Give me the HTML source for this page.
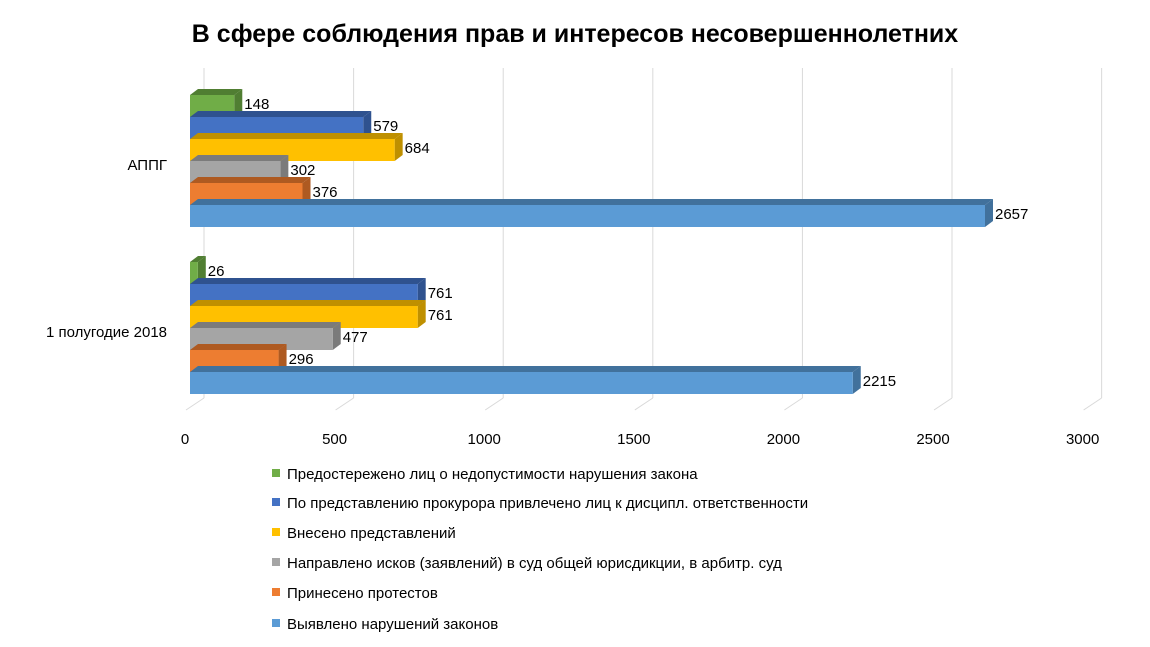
<!DOCTYPE html>
<html><head><meta charset="utf-8"><style>
body{margin:0;background:#fff;font-family:"Liberation Sans","DejaVu Sans",sans-serif}
svg{display:block}
</style></head><body>
<svg id="c" width="1150" height="647">
<text x="575" y="42" text-anchor="middle" font-size="25" font-weight="bold" fill="#000">В сфере соблюдения прав и интересов несовершеннолетних</text>
<g id="grid"></g><g id="bars"></g><g id="legend"></g>
</svg>
<script>
const categories=["АППГ","1 полугодие 2018"];
const seriesNames=["Предостережено лиц о недопустимости нарушения  закона","По представлению прокурора привлечено лиц к дисципл. ответственности","Внесено  представлений","Направлено исков (заявлений) в суд общей юрисдикции, в арбитр. суд","Принесено протестов","Выявлено нарушений законов"];
const valuesAPPG=[148,579,684,302,376,2657];
const values2018=[26,761,761,477,296,2215];
const ticks=[0,500,1000,1500,2000,2500,3000];
const colors=["#70ad47","#4472c4","#ffc000","#a5a5a5","#ed7d31","#5b9bd5"];
const dark=["#507e32","#2f528f","#bf9000","#7b7b7b","#ae5a21","#41719c"];
const NS="http://www.w3.org/2000/svg";
function mk(t,a,p,txt){const e=document.createElementNS(NS,t);for(const k in a)e.setAttribute(k,a[k]);if(txt!==undefined)e.textContent=txt;p.appendChild(e);return e;}
const x0=190,sc=(985-190)/2657,dx=8,dy=6;
const X=v=>x0+v*sc;
const grid=document.getElementById('grid'),bars=document.getElementById('bars'),leg=document.getElementById('legend');
ticks.forEach(t=>{
  const bx=X(t)+dx+6;
  let l=mk('line',{x1:bx,y1:68,x2:bx,y2:398,stroke:'#d9d9d9','stroke-width':1},grid);
  
  mk('line',{x1:bx,y1:398,x2:X(t)-4,y2:410,stroke:'#d9d9d9','stroke-width':1},grid);
  let tx=mk('text',{x:X(t)-5,y:444,'text-anchor':'middle','font-size':15,fill:'#000'},grid,String(t));
  
});
const groups=[{vals:valuesAPPG,top:95,ly:170},{vals:values2018,top:262,ly:337}];
const bh=22;
groups.forEach((g,gi)=>{
  let cl=mk('text',{x:167,y:g.ly,'text-anchor':'end','font-size':15,fill:'#000'},bars,categories[gi]);
  
  g.vals.forEach((v,i)=>{
    const y=g.top+i*bh,xe=X(v);
    const grp=mk('g',{},bars);
    
    
    mk('polygon',{points:`${x0},${y} ${x0+dx},${y-dy} ${xe+dx},${y-dy} ${xe},${y}`,fill:dark[i]},grp);
    mk('polygon',{points:`${xe},${y} ${xe+dx},${y-dy} ${xe+dx},${y+bh-dy} ${xe},${y+bh}`,fill:dark[i]},grp);
    mk('rect',{x:x0,y:y,width:xe-x0,height:bh,fill:colors[i]},grp);
    let t=mk('text',{x:xe+dx+2,y:y+bh/2+3,'font-size':15,fill:'#000'},grp,String(v));
    
  });
});
const ly=[474,503,533,563,593,624];
seriesNames.forEach((n,i)=>{
  const g=mk('g',{},leg);
  
  mk('rect',{x:272,y:ly[i]-5,width:8,height:8,fill:colors[i]},g);
  mk('text',{x:287,y:ly[i]+5,'font-size':15,fill:'#000'},g,n);
});
</script>
</body></html>
